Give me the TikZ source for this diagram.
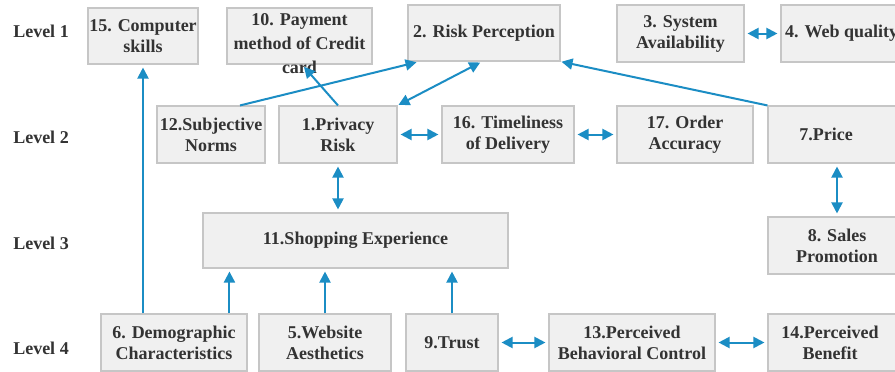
\documentclass[tikz,border=0pt]{standalone}
\usepackage{fontspec}
\setmainfont{Liberation Serif}
\usetikzlibrary{arrows.meta,calc}
\definecolor{arrowblue}{HTML}{1B8DC4}
\definecolor{boxfill}{HTML}{F0F0F0}
\definecolor{boxline}{HTML}{C6C6C6}
\definecolor{txtcol}{HTML}{333333}
\begin{document}
\begin{tikzpicture}[x=1pt,y=-1pt,
 box/.style={draw=boxline, fill=boxfill, line width=1.1pt, inner sep=0pt, align=center, text=txtcol, font=\bfseries\fontsize{18}{21}\selectfont},
 txt/.style={inner sep=0pt, align=center, text=txtcol, font=\bfseries\fontsize{18}{21}\selectfont},
 arr/.style={draw=arrowblue, line width=2pt, -{Triangle[length=11pt,width=11pt]}, shorten >=3pt},
 biarr/.style={draw=arrowblue, line width=2pt, {Triangle[length=11pt,width=11pt]}-{Triangle[length=11pt,width=11pt]}, shorten >=3pt, shorten <=3pt},
]
\path[use as bounding box] (0,0) rectangle (895,372);
\fill[white] (0,0) rectangle (895,372);
\clip (0,0) rectangle (895,372);

% level labels
\node[txt] (l1) at (41,31) {Level 1};
\node[txt] (l2) at (41,137) {Level 2};
\node[txt] (l3) at (41,243) {Level 3};
\node[txt] (l4) at (41,348) {Level 4};

% level 1
\node[box, minimum width=110pt, minimum height=56pt] (b15) at (143,36) {15. Computer\\skills};
\node[box, minimum width=145pt, minimum height=56pt] (b10) at (299.5,36) {};
\node[txt, font=\bfseries\fontsize{18}{24}\selectfont] (t10) at (299.5,44) {10. Payment\\method of Credit\\card};
\node[box, minimum width=152pt, minimum height=56pt] (b2) at (484,33) {2. Risk Perception};
\node[box, minimum width=127pt, minimum height=57pt] (b3) at (680.5,33.5) {3. System\\Availability};
\node[box, minimum width=130pt, minimum height=57pt] (b4) at (846,33.5) {};
\node[txt, anchor=west] (t4) at (785,33.5) {4. Web quality};

% level 2
\node[box, minimum width=108pt, minimum height=57pt] (b12) at (211,134.5) {12.Subjective\\Norms};
\node[box, minimum width=118pt, minimum height=57pt] (b1) at (338,134.5) {1.Privacy\\Risk};
\node[box, minimum width=132pt, minimum height=57pt] (b16) at (508,134.5) {16. Timeliness\\of Delivery};
\node[box, minimum width=136pt, minimum height=57pt] (b17) at (685,134.5) {17. Order\\Accuracy};
\node[box, minimum width=140pt, minimum height=57pt] (b7) at (838,134.5) {};
\node[txt] (t7) at (826,134.5) {7.Price};

% level 3
\node[box, minimum width=305pt, minimum height=55pt] (b11) at (355.5,240.5) {11.Shopping Experience};
\node[box, minimum width=140pt, minimum height=57pt] (b8) at (838,245.5) {};
\node[txt] (t8) at (837,245.5) {8. Sales\\Promotion};

% level 4
\node[box, minimum width=146pt, minimum height=57pt] (b6) at (174,342.5) {6. Demographic\\Characteristics};
\node[box, minimum width=132pt, minimum height=57pt] (b5) at (325,342.5) {5.Website\\Aesthetics};
\node[box, minimum width=92pt, minimum height=57pt] (b9) at (452,342.5) {9.Trust};
\node[box, minimum width=166pt, minimum height=57pt] (b13) at (632,342.5) {13.Perceived\\Behavioral Control};
\node[box, minimum width=140pt, minimum height=57pt] (b14) at (838,342.5) {};
\node[txt] (t14) at (830,342.5) {14.Perceived\\Benefit};

% helper coordinates
\coordinate (c6) at ([xshift=27pt]b11.south west);
\coordinate (c12) at ([xshift=29pt]b12.north);
\coordinate (c2a) at ([xshift=12pt]b2.south west);
\coordinate (c10) at ([xshift=2.5pt]b10.south);
\coordinate (c2b) at ([xshift=-2pt]b2.south);
\coordinate (c7) at ([xshift=-1pt]b7.south);

% connectors
\draw[arr] (b6.north -| b15.south) -- (b15.south);
\draw[arr] (b6.north -| c6) -- (c6);
\draw[arr] (b5.north) -- (b5.north |- b11.south);
\draw[arr] (b9.north) -- (b9.north |- b11.south);
\draw[biarr] (b9.east) -- (b13.west);
\draw[biarr] (b13.east) -- (b14.west);
\draw[biarr] (b1.south) -- (b1.south |- b11.north);
\draw[biarr] (b1.east) -- (b16.west);
\draw[biarr] (b16.east) -- (b17.west);
\draw[biarr] (c7) -- (c7 |- b8.north);
\draw[biarr] (b3.east) -- (b4.west);
\draw[arr] (c12) -- (c2a);
\draw[arr] (b1.north) -- (c10);
\draw[biarr, shorten <=1pt, shorten >=2pt] (b1.north east) -- (c2b);
\draw[arr, shorten >=1pt] (b7.north west) -- (b2.south east);
\end{tikzpicture}
\end{document}
